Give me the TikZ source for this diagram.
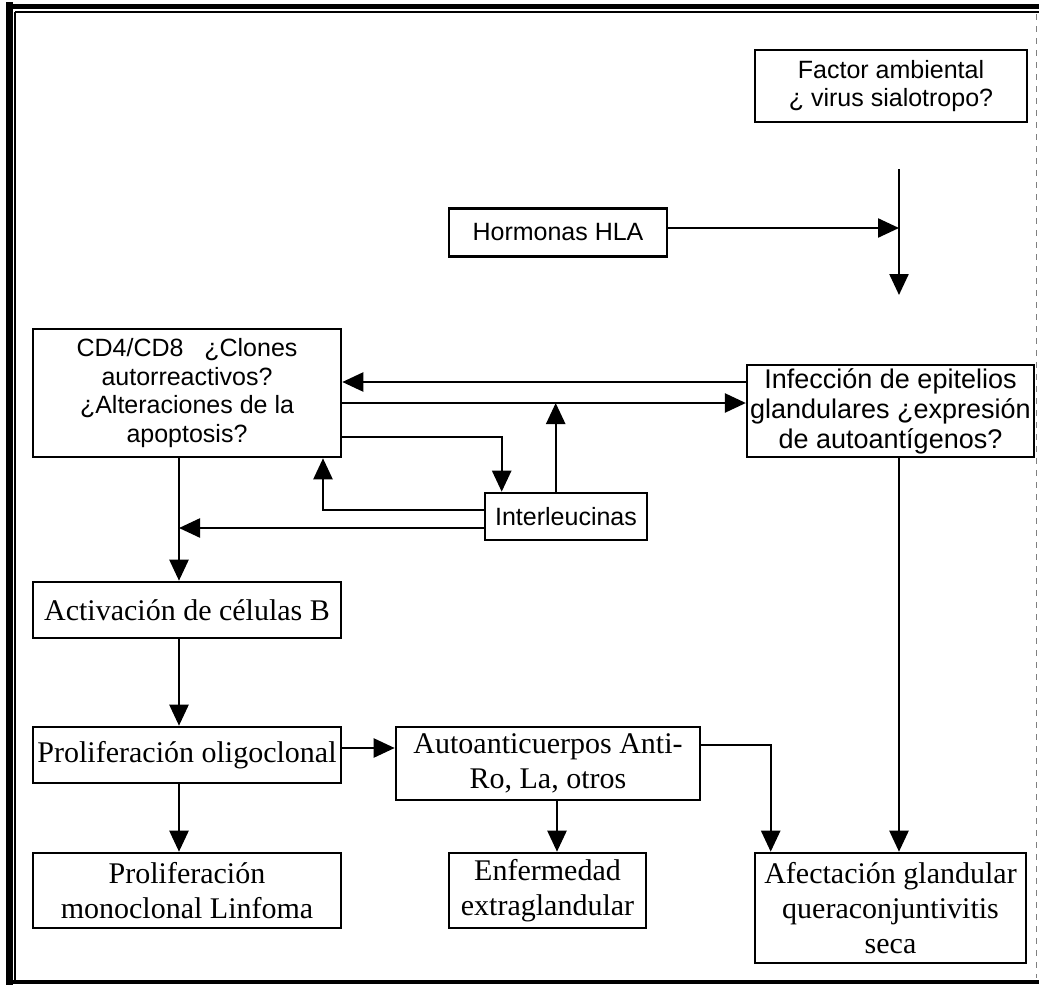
\documentclass[tikz,border=0pt]{standalone}
\usepackage{fontspec}
\setmainfont{Liberation Serif}
\newfontfamily\arialfont{Liberation Sans}
\usepackage{tikz}
\usetikzlibrary{positioning, arrows.meta, calc}

\begin{document}
\begin{tikzpicture}[
  x=0.5pt, y=-0.5pt,
  box/.style={draw, line width=1.3pt, align=center, inner sep=1.5pt},
  sbox/.style={box, font=\arialfont\fontsize{12.5}{14.25}\selectfont},
  rbox/.style={box, font=\fontsize{15}{17.5}\selectfont},
  colbox/.style={rbox, minimum width=154pt},
  arrow/.style={-{Triangle[length=10.5pt,width=9.5pt]}, line width=1.2pt},
]
\useasboundingbox (0,0) rectangle (1039,985);

% frame
\draw[line width=2.5pt] (6,6.5) -- (1039,6.5);
\draw[line width=0.8pt] (15,12) -- (1039,12);
\draw[line width=3.5pt] (9.5,2) -- (9.5,985);
\draw[line width=0.8pt] (15,12) -- (15,980);
\draw[line width=2pt] (6,982) -- (1039,982);
\draw[line width=0.5pt, gray, dashed] (1036,14) -- (1036,978);

% nodes
\node[sbox, minimum width=136pt, minimum height=36pt] (fact) at (891,86) {Factor ambiental\\ ¿ virus sialotropo?};
\node[sbox, minimum width=109pt, minimum height=24pt] (hla) at (558,232.5) {Hormonas HLA};
\node[sbox, minimum width=154pt, minimum height=64pt] (cd4) at (187,393) {CD4/CD8\ \ \ ¿Clones\\autorreactivos?\\¿Alteraciones de la\\apoptosis?};
\node[sbox, font=\arialfont\fontsize{13.5}{15}\selectfont, minimum width=135.5pt, minimum height=46pt] (inf) at (890.5,411) {Infección de epitelios\\glandulares ¿expresión\\de autoantígenos?};
\node[sbox, minimum width=81pt, minimum height=23.5pt] (inter) at (566,516.5) {Interleucinas};
\node[colbox, minimum height=28pt] (act) at (187,610) {Activación de células B};
\node[colbox, minimum height=28pt] (oligo) at (187,755) {Proliferación oligoclonal};
\node[rbox, minimum width=152pt, minimum height=36.5pt] (auto) at (548,763.5) {Autoanticuerpos Anti-\\Ro, La, otros};
\node[colbox, minimum height=37.5pt] (mono) at (187,890.5) {Proliferación\\monoclonal Linfoma};
\node[rbox, minimum width=98.5pt, minimum height=37.5pt] (enf) at (547.5,890.5) {Enfermedad\\extraglandular};
\node[rbox, minimum width=135.5pt, minimum height=55pt] (afe) at (890.5,908) {Afectación glandular\\queraconjuntivitis\\seca};

% helper points
\coordinate (vtop) at (899,169);
\coordinate (vtip) at (899,295);
\coordinate (hlaout) at ([yshift=2.25pt]hla.east);
\coordinate (back) at ([yshift=14.5pt]inf.west);
\coordinate (fwd) at ([yshift=-5pt]cd4.east);
\coordinate (toil) at ([yshift=-22pt]cd4.east);
\coordinate (ildown) at ([xshift=9pt]inter.north west);
\coordinate (ilup) at ([xshift=36pt]inter.north west);
\coordinate (ilhi) at ([yshift=3.25pt]inter.west);
\coordinate (illo) at ([yshift=-5.75pt]inter.west);
\coordinate (cdfoot) at ([xshift=68pt]cd4.south);
\coordinate (spine) at ([xshift=-4pt]cd4.south);
\coordinate (olout) at ([yshift=3.5pt]oligo.east);
\coordinate (auout) at ([yshift=9.25pt]auto.east);
\coordinate (afein) at ([xshift=8.5pt]afe.north west);
\coordinate (audown) at ([xshift=4.5pt]auto.south);
\coordinate (infdown) at ([xshift=4.25pt]inf.south);

% connectors
\draw[arrow] (vtop) -- (vtip);
\draw[arrow] (hlaout) -- (hlaout -| vtop);
\draw[arrow] (back) -- (back -| cd4.east);
\draw[arrow] (fwd) -- (fwd -| inf.west);
\draw[arrow] (toil) -| (ildown);
\draw[arrow] (ilup) -- (ilup |- fwd);
\draw[arrow] (ilhi) -| (cdfoot);
\draw[arrow] (illo) -- (illo -| spine);
\draw[arrow] (spine) -- (spine |- act.north);
\draw[arrow] (spine |- act.south) -- (spine |- oligo.north);
\draw[arrow] (spine |- oligo.south) -- (spine |- mono.north);
\draw[arrow] (olout) -- (olout -| auto.west);
\draw[arrow] (auout) -| (afein);
\draw[arrow] (audown) -- (audown |- enf.north);
\draw[arrow] (infdown) -- (infdown |- afe.north);
\end{tikzpicture}
\end{document}
